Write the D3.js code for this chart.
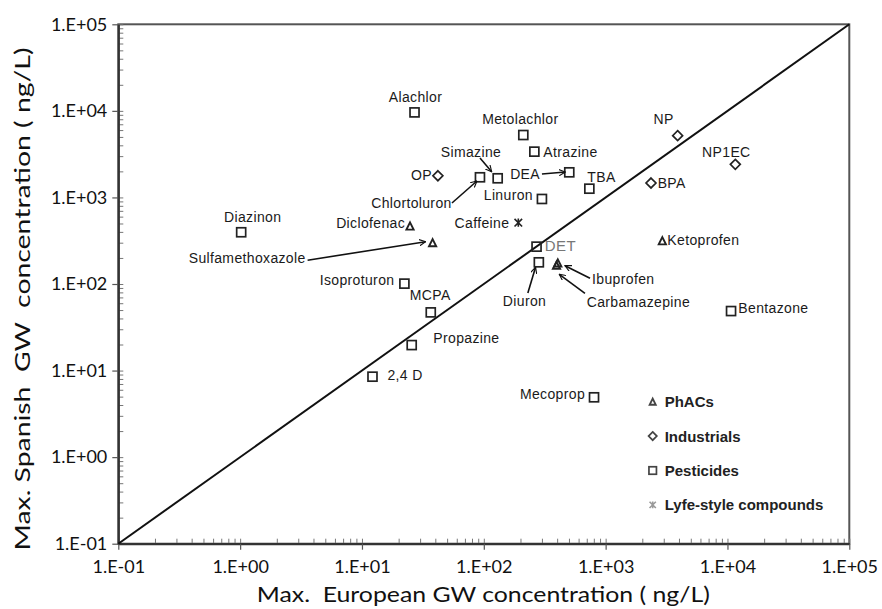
<!DOCTYPE html>
<html>
<head>
<meta charset="utf-8">
<script src="https://cdn.jsdelivr.net/npm/d3@7"></script>
<style>
  body { margin: 0; background: #fff; }
  svg { display: block; }
</style>
</head>
<body>
<svg id="chart" width="882" height="609"></svg>
<script>
// compounds: max European vs max Spanish groundwater concentration (ng/L)
const names = ["Alachlor", "OP", "Diazinon", "Diclofenac", "Sulfamethoxazole", "Isoproturon", "MCPA",
    "Propazine", "2,4 D", "Metolachlor", "Atrazine", "Simazine", "Chlortoluron", "DEA", "TBA", "Linuron",
    "Caffeine", "NP", "NP1EC", "BPA", "Ketoprofen", "DET", "Diuron", "Ibuprofen", "Carbamazepine",
    "Bentazone", "Mecoprop"];
const europe = [27, 42, 1.02, 24.8, 38, 22.3, 36.7, 25.6, 12.2, 211, 260, 130, 93, 503, 735, 300,
    192, 3900, 11600, 2357, 2920, 271, 283, 405, 395, 10700, 803];
const spain = [9600, 1780, 396, 468, 300, 101, 47, 19.7, 8.5, 5260, 3380, 1664, 1709, 1950, 1262, 960,
    511, 5170, 2414, 1468, 316, 270, 178, 175, 165, 48.7, 4.91];
const groups = ["Pesticides", "Industrials", "Pesticides", "PhACs", "PhACs", "Pesticides", "Pesticides",
    "Pesticides", "Pesticides", "Pesticides", "Pesticides", "Pesticides", "Pesticides", "Pesticides",
    "Pesticides", "Pesticides", "Lyfe-style compounds", "Industrials", "Industrials", "Industrials", "PhACs",
    "Pesticides", "Pesticides", "PhACs", "PhACs", "Pesticides", "Pesticides"];
const categories = ["PhACs", "Industrials", "Pesticides", "Lyfe-style compounds"];
const majorTicks = [1e-1, 1e0, 1e1, 1e2, 1e3, 1e4, 1e5];

// label placement relative to each point (pixels): dx, dy, anchor
const labelPos = {
    "Alachlor": [1, -10, "middle"], "OP": [-6, 4.5, "end"], "Diazinon": [11.5, -10.6, "middle"],
    "Diclofenac": [-5, 2, "end"], "Sulfamethoxazole": [-127, 20, "end"], "Isoproturon": [-10, 1.3, "end"],
    "MCPA": [-21, -12, "start"], "Propazine": [21.6, -2, "start"], "2,4 D": [15, 3.3, "start"],
    "Metolachlor": [-3, -11, "middle"], "Atrazine": [9, 5.3, "start"], "Simazine": [-26.7, -21.6, "middle"],
    "Chlortoluron": [-28.3, 30.7, "end"], "DEA": [-29.3, 6.7, "end"], "TBA": [-2, -7, "start"],
    "Linuron": [-9, 1, "end"], "Caffeine": [-9, 5.6, "end"], "NP": [-14, -11.7, "middle"],
    "NP1EC": [-9, -7.6, "middle"], "BPA": [6.7, 4.7, "start"], "Ketoprofen": [5, 4.3, "start"],
    "DET": [8.3, 4, "start"], "Diuron": [-14.3, 44, "middle"], "Ibuprofen": [34.3, 21, "start"],
    "Carbamazepine": [30.2, 41.5, "start"], "Bentazone": [7.3, 2, "start"], "Mecoprop": [-9, 2, "end"]
};
// leader arrows relative to the point: x1, y1 -> x2, y2
const arrowPos = {
    "Sulfamethoxazole": [-125, 17.5, -7, -1], "Simazine": [-17.7, -20.3, -6, -6.6],
    "Chlortoluron": [-28, 25.7, -3, 3.7], "DEA": [-27.3, 1.7, -4, -0.3], "Diuron": [-11, 30.6, -3.3, 5],
    "Ibuprofen": [32.2, 15.3, 7.2, 2.7], "Carbamazepine": [28.5, 28.1, 2.8, 9.1]
};

const margin = {top: 24.3, left: 118.3};
const width = 731, height = 519.4;

const svg = d3.select("#chart");
const g = svg.append("g").attr("transform", `translate(${margin.left},${margin.top})`);

const x = d3.scaleLog().domain([1e-1, 1e5]).range([0, width]);
const y = d3.scaleLog().domain([1e-1, 1e5]).range([height, 0]);

const fmt = v => {
    let e = Math.round(Math.log10(v));
    return "1.E" + (e < 0 ? "-" : "+") + String(Math.abs(e)).padStart(2, "0");
};

// frame
g.append("rect").attr("width", width).attr("height", height)
    .attr("fill", "none").attr("stroke", "#555").attr("stroke-width", 2);

// minor ticks (inside)
const minor = x.ticks();
g.append("g").attr("transform", `translate(0,${height})`)
    .call(d3.axisBottom(x).tickValues(minor).tickSize(-5).tickFormat(""))
    .call(a => a.select(".domain").remove())
    .call(a => a.selectAll("line").attr("stroke", "#777"));
g.append("g")
    .call(d3.axisLeft(y).tickValues(minor).tickSize(-5).tickFormat(""))
    .call(a => a.select(".domain").remove())
    .call(a => a.selectAll("line").attr("stroke", "#777"));

// major axes
const xAxis = g.append("g").attr("transform", `translate(0,${height})`)
    .call(d3.axisBottom(x).tickValues(majorTicks).tickFormat(fmt).tickSizeInner(6).tickSizeOuter(0).tickPadding(11));
const yAxis = g.append("g")
    .call(d3.axisLeft(y).tickValues(majorTicks).tickFormat(fmt).tickSizeInner(6).tickSizeOuter(0).tickPadding(5));
[xAxis, yAxis].forEach(a => {
    a.select(".domain").attr("stroke", "#333").attr("stroke-width", 2.2);
    a.selectAll(".tick line").attr("stroke", "#555").attr("stroke-width", 1.2);
    a.selectAll(".tick text").attr("font-family", "Lato, 'Open Sans', sans-serif")
        .attr("font-size", 18).attr("fill", "#111");
});

// 1:1 line
g.append("line")
    .attr("x1", x(1e-1)).attr("y1", y(1e-1)).attr("x2", x(1e5)).attr("y2", y(1e5))
    .attr("stroke", "#111").attr("stroke-width", 2);

// axis titles
svg.append("text")
    .attr("x", margin.left + width / 2 - 0.5).attr("y", 602)
    .attr("text-anchor", "middle")
    .attr("font-family", "Lato, 'Open Sans', sans-serif").attr("font-size", 21).attr("fill", "#111")
    .attr("textLength", 453).attr("lengthAdjust", "spacingAndGlyphs")
    .style("white-space", "pre")
    .text("Max.  European GW concentration ( ng/L)");
svg.append("text")
    .attr("transform", "translate(30,299) rotate(-90)")
    .attr("text-anchor", "middle")
    .attr("font-family", "Lato, 'Open Sans', sans-serif").attr("font-size", 22).attr("fill", "#111")
    .attr("textLength", 503).attr("lengthAdjust", "spacingAndGlyphs")
    .style("white-space", "pre")
    .text("Max. Spanish  GW  concentration ( ng/L)");

// symbols
function drawSymbol(sel, cat, s, color) {
    if (cat === "Pesticides") {
        sel.append("rect").attr("x", -s / 2).attr("y", -s / 2).attr("width", s).attr("height", s)
            .attr("fill", "none").attr("stroke", color).attr("stroke-width", 1.7);
    } else if (cat === "PhACs") {
        let h = s * 0.8;
        sel.append("path").attr("d", `M0,${-h / 2}L${h / 2},${h / 2}L${-h / 2},${h / 2}Z`)
            .attr("fill", "none").attr("stroke", color).attr("stroke-width", 1.9);
    } else if (cat === "Industrials") {
        let h = s * 0.55;
        sel.append("path").attr("d", `M0,${-h}L${h},0L0,${h}L${-h},0Z`)
            .attr("fill", "none").attr("stroke", color).attr("stroke-width", 1.7);
    } else {
        let h = s * 0.42;
        sel.append("path").attr("d", `M${-h},${-h}L${h},${h}M${-h},${h}L${h},${-h}M0,${-h * 1.1}L0,${h * 1.1}`)
            .attr("fill", "none").attr("stroke", color).attr("stroke-width", 1.6);
    }
}

const data = names.map((n, i) => ({name: n, eu: europe[i], es: spain[i], cat: groups[i]}));

const pts = g.selectAll(".pt").data(data).enter().append("g")
    .attr("class", "pt")
    .attr("transform", d => `translate(${x(d.eu)},${y(d.es)})`);
pts.each(function (d) { drawSymbol(d3.select(this), d.cat, 9, "#222"); });

// arrowhead
svg.append("defs").append("marker")
    .attr("id", "head").attr("viewBox", "0 -5 10 10").attr("refX", 9).attr("refY", 0)
    .attr("markerWidth", 7).attr("markerHeight", 7).attr("markerUnits", "userSpaceOnUse")
    .attr("orient", "auto")
    .append("path").attr("d", "M0,-4.5L9,0L0,4.5").attr("fill", "none")
    .attr("stroke", "#111").attr("stroke-width", 1.6);

pts.filter(d => arrowPos[d.name]).append("line")
    .attr("x1", d => arrowPos[d.name][0]).attr("y1", d => arrowPos[d.name][1])
    .attr("x2", d => arrowPos[d.name][2]).attr("y2", d => arrowPos[d.name][3])
    .attr("stroke", "#111").attr("stroke-width", 1.6)
    .attr("marker-end", "url(#head)");

pts.append("text")
    .attr("x", d => labelPos[d.name][0]).attr("y", d => labelPos[d.name][1])
    .attr("text-anchor", d => labelPos[d.name][2])
    .attr("font-family", "'Liberation Sans', Arial, sans-serif")
    .attr("font-size", d => d.name === "DET" ? 15 : 14)
    .attr("letter-spacing", 0.35)
    .attr("fill", d => d.name === "DET" ? "#777" : "#1a1a1a")
    .text(d => d.name);

// legend
const legend = svg.append("g").attr("transform", "translate(652.7,401.7)");
categories.forEach((c, i) => {
    let row = legend.append("g").attr("transform", `translate(0,${i * 34.4})`);
    drawSymbol(row, c, 7.5, c === "Lyfe-style compounds" ? "#999" : "#444");
    row.append("text").attr("x", 12).attr("y", 5.5)
        .attr("font-family", "'Liberation Sans', Arial, sans-serif").attr("font-weight", "bold")
        .attr("font-size", 15).attr("fill", "#222")
        .text(c);
});
</script>
</body>
</html>
